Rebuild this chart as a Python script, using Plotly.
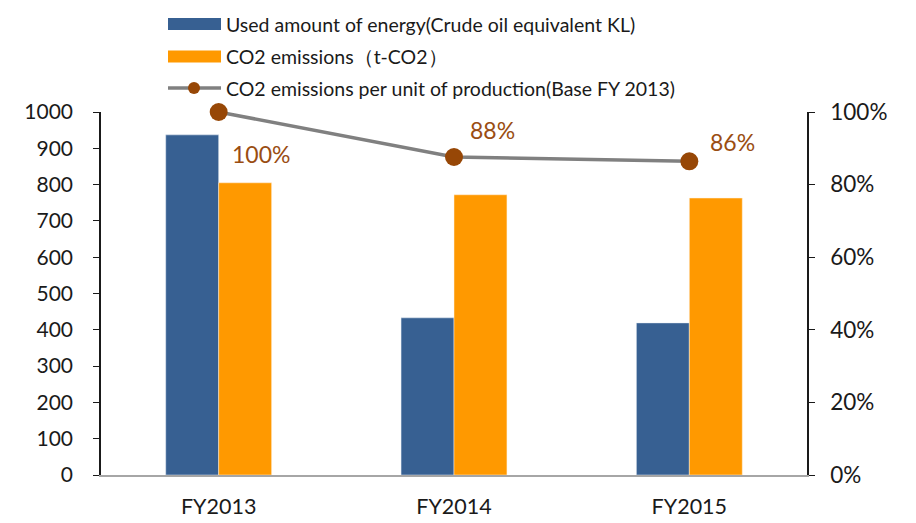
import plotly.graph_objects as go

categories = ["FY2013", "FY2014", "FY2015"]
energy_used = [937, 433, 419]
co2_emissions = [805, 772, 763]
co2_per_unit = [1.00, 0.876, 0.864]

legend_names = [
    "Used amount of energy(Crude oil equivalent KL)",
    "CO2 emissions\uff08t-CO2\uff09",
    "CO2 emissions per unit of production(Base FY 2013)",
]

BLUE = "#376092"
ORANGE = "#FF9900"
GRAY = "#808080"
BROWN = "#974706"
LABEL_BROWN = "#9A4D12"
FONT = "Lato"

# figure sits at an 8px page offset; size chosen so it fills the 916x523 window
W, H = 908, 515
OFF = 8
L, R, T, B = 93, 109, 104, 48
PW, PH = W - L - R, H - T - B

def px(x):
    # x in window pixels -> paper fraction
    return (x - OFF - L) / PW

def py(y):
    return (H - B - (y - OFF)) / PH

fig = go.Figure()
fig.add_trace(go.Bar(x=categories, y=energy_used, name=legend_names[0],
                     marker=dict(color=BLUE, line=dict(color="#e8eef5", width=0.5)),
                     showlegend=False))
fig.add_trace(go.Bar(x=categories, y=co2_emissions, name=legend_names[1],
                     marker=dict(color=ORANGE, line=dict(color="#fff3e0", width=0.5)),
                     showlegend=False))
fig.add_trace(go.Scatter(x=categories, y=co2_per_unit, name=legend_names[2], yaxis="y2",
                         mode="lines+markers", cliponaxis=False,
                         line=dict(color=GRAY, width=3.5),
                         marker=dict(color=BROWN, size=18),
                         showlegend=False))

# data labels for the line
shifts = [(42, -42), (38, 27), (43, 19)]
for c, v, (dx, dy) in zip(categories, co2_per_unit, shifts):
    fig.add_annotation(x=c, y=v, yref="y2", text=f"{round(v*100):d}%",
                       showarrow=False, xshift=dx, yshift=dy,
                       font=dict(family=FONT, size=23, color=LABEL_BROWN))

# manual legend
legend_y = [24, 56.5, 88]
sx0, sx1, tx = 168, 221, 224
shapes = []
shapes.append(dict(type="rect", xref="paper", yref="paper",
                   x0=px(sx0), x1=px(sx1), y0=py(legend_y[0] - 6), y1=py(legend_y[0] + 6),
                   fillcolor=BLUE, line=dict(width=0)))
shapes.append(dict(type="rect", xref="paper", yref="paper",
                   x0=px(sx0), x1=px(sx1), y0=py(legend_y[1] - 6), y1=py(legend_y[1] + 6),
                   fillcolor=ORANGE, line=dict(width=0)))
shapes.append(dict(type="line", xref="paper", yref="paper",
                   x0=px(sx0), x1=px(sx1), y0=py(legend_y[2]), y1=py(legend_y[2]),
                   line=dict(color=GRAY, width=3.5)))
shapes.append(dict(type="circle", xref="paper", yref="paper",
                   x0=px(194 - 6), x1=px(194 + 6), y0=py(legend_y[2] + 6), y1=py(legend_y[2] - 6),
                   fillcolor=BROWN, line=dict(width=0)))
for name, ly in zip(legend_names, legend_y):
    fig.add_annotation(xref="paper", yref="paper", x=px(tx), y=py(ly), text=name,
                       showarrow=False, xanchor="left", yanchor="middle",
                       font=dict(family=FONT, size=19.5, color="#1a1a1a"))

fig.update_layout(
    width=W, height=H,
    margin=dict(l=L, r=R, t=T, b=B, autoexpand=False),
    paper_bgcolor="white", plot_bgcolor="white",
    barmode="group", bargap=0.55, bargroupgap=0,
    font=dict(family=FONT, size=21, color="#1a1a1a"),
    shapes=shapes,
    xaxis=dict(showgrid=False, showline=True, linecolor="#a6a6a6", linewidth=1.5,
               ticks="", tickfont=dict(size=21.5), ticklabelstandoff=11),
    yaxis=dict(range=[0, 1000], dtick=100, showgrid=False, showline=True,
               linecolor="#1a1a1a", linewidth=1.5, ticks="outside", ticklen=6,
               tickcolor="#1a1a1a", zeroline=False, ticklabelstandoff=16),
    yaxis2=dict(range=[0, 1], dtick=0.2, tickformat=".0%", overlaying="y", side="right",
                showgrid=False, showline=True, linecolor="#1a1a1a", linewidth=1.5,
                ticks="outside", ticklen=6, tickcolor="#1a1a1a", zeroline=False,
                ticklabelstandoff=11, tickfont=dict(size=22.5)),
    showlegend=False,
)

fig.write_html("out.html")
